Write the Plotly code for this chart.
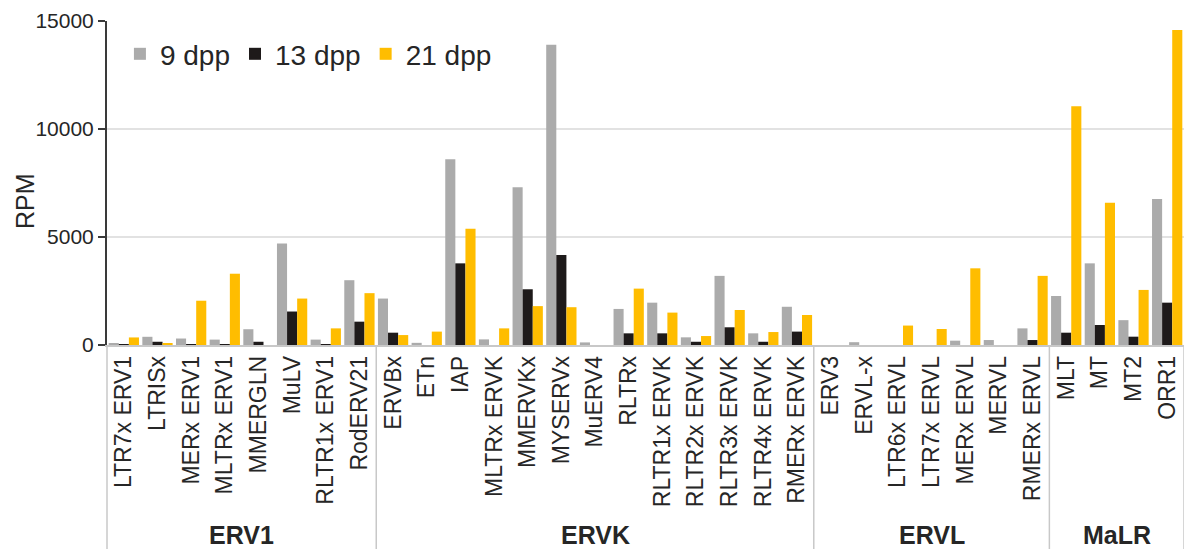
import plotly.graph_objects as go

# Repeat families and their element names
families = ["ERV1", "ERVK", "ERVL", "MaLR"]
family_members = [
    ["LTR7x ERV1", "LTRISx", "MERx ERV1", "MLTRx ERV1", "MMERGLN", "MuLV",
     "RLTR1x ERV1", "RodERV21"],
    ["ERVBx", "ETn", "IAP", "MLTRx ERVK", "MMERVKx", "MYSERVx", "MuERV4",
     "RLTRx", "RLTR1x ERVK", "RLTR2x ERVK", "RLTR3x ERVK", "RLTR4x ERVK",
     "RMERx ERVK"],
    ["ERV3", "ERVL-x", "LTR6x ERVL", "LTR7x ERVL", "MERx ERVL", "MERVL",
     "RMERx ERVL"],
    ["MLT", "MT", "MT2", "ORR1"],
]
categories = [name for group in family_members for name in group]

# RPM per element at each stage
rpm_9dpp = [90, 380, 300, 250, 730, 4700, 250, 3000,
            2150, 100, 8600, 260, 7300, 13900, 120, 1670, 1960, 355, 3200, 540, 1770,
            0, 130, 0, 0, 200, 230, 770,
            2270, 3780, 1150, 6760]
rpm_13dpp = [10, 150, 30, 20, 150, 1550, 30, 1080,
             570, 0, 3780, 0, 2580, 4170, 0, 540, 540, 150, 820, 150, 620,
             0, 0, 0, 0, 0, 0, 230,
             570, 925, 385, 1960]
rpm_21dpp = [350, 60, 2050, 3300, 0, 2150, 770, 2400,
             460, 620, 5380, 770, 1800, 1750, 0, 2610, 1500, 415, 1620, 600, 1390,
             0, 0, 900, 740, 3550, 0, 3200,
             11050, 6590, 2550, 14580]

series_names = ["9 dpp", "13 dpp", "21 dpp"]
series_values = [rpm_9dpp, rpm_13dpp, rpm_21dpp]
series_colors = ["#ABABAB", "#1E1A1A", "#FFBD00"]

y_ticks = [0, 5000, 10000, 15000]
y_tick_labels = ["0", "5000", "10000", "15000"]

W, H = 1184, 549
M_LEFT, M_RIGHT, M_TOP, M_BOTTOM = 107, 0, 21, 204
plot_h = H - M_TOP - M_BOTTOM

fig = go.Figure()
for name, vals, color in zip(series_names, series_values, series_colors):
    fig.add_trace(go.Bar(x=categories, y=vals, name=name,
                         marker=dict(color=color, line=dict(width=0))))

n_cat = len(categories)
shapes = []
annotations = []
bottom_y = -(M_BOTTOM / plot_h)
start = 0
# left edge divider
shapes.append(dict(type="line", xref="paper", yref="paper", x0=0, x1=0,
                   y0=0, y1=bottom_y, line=dict(color="#C8C8C8", width=1.5)))
for fam, members in zip(families, family_members):
    end = start + len(members)
    shapes.append(dict(type="line", xref="paper", yref="paper",
                       x0=end / n_cat, x1=end / n_cat, y0=0, y1=bottom_y,
                       line=dict(color="#C8C8C8", width=1.5)))
    annotations.append(dict(xref="paper", yref="paper",
                            x=(start + end) / 2 / n_cat, y=-(190 / plot_h),
                            text="<b>" + fam + "</b>", showarrow=False,
                            xanchor="center", yanchor="middle",
                            font=dict(size=25, color="#262626",
                                      family="Liberation Sans, Arial")))
    start = end

# axis title
annotations.append(dict(xref="paper", yref="paper", x=-(82 / (W - M_LEFT)),
                        y=(345 - 201) / plot_h, text="RPM", textangle=-90,
                        showarrow=False, xanchor="center", yanchor="middle",
                        font=dict(size=25, color="#262626",
                                  family="Liberation Sans, Arial")))

fig.update_layout(
    width=W, height=H,
    margin=dict(l=M_LEFT, r=M_RIGHT, t=M_TOP, b=M_BOTTOM, pad=0),
    paper_bgcolor="white", plot_bgcolor="white",
    barmode="group", bargap=0.1, bargroupgap=0,
    font=dict(family="Liberation Sans, Arial", color="#262626"),
    legend=dict(orientation="h", x=0.012, y=0.975, xanchor="left",
                yanchor="top", font=dict(size=28, color="#262626"),
                bgcolor="rgba(0,0,0,0)", itemwidth=30, tracegroupgap=0),
    shapes=shapes, annotations=annotations,
)
fig.update_xaxes(type="category", tickangle=-90, tickfont=dict(size=23),
                 showgrid=False, showline=True, linecolor="#C8C8C8",
                 linewidth=1.5, ticks="", ticklen=0)
fig.update_yaxes(range=[0, 15000], tickvals=y_ticks, ticktext=y_tick_labels,
                 tickfont=dict(size=21), showgrid=True, gridcolor="#E2E2E2",
                 gridwidth=1.5, showline=True, linecolor="#3A3A3A",
                 linewidth=2, ticks="outside", ticklen=7, tickcolor="#3A3A3A",
                 tickwidth=2, zeroline=False)

fig.write_html("out.html")
